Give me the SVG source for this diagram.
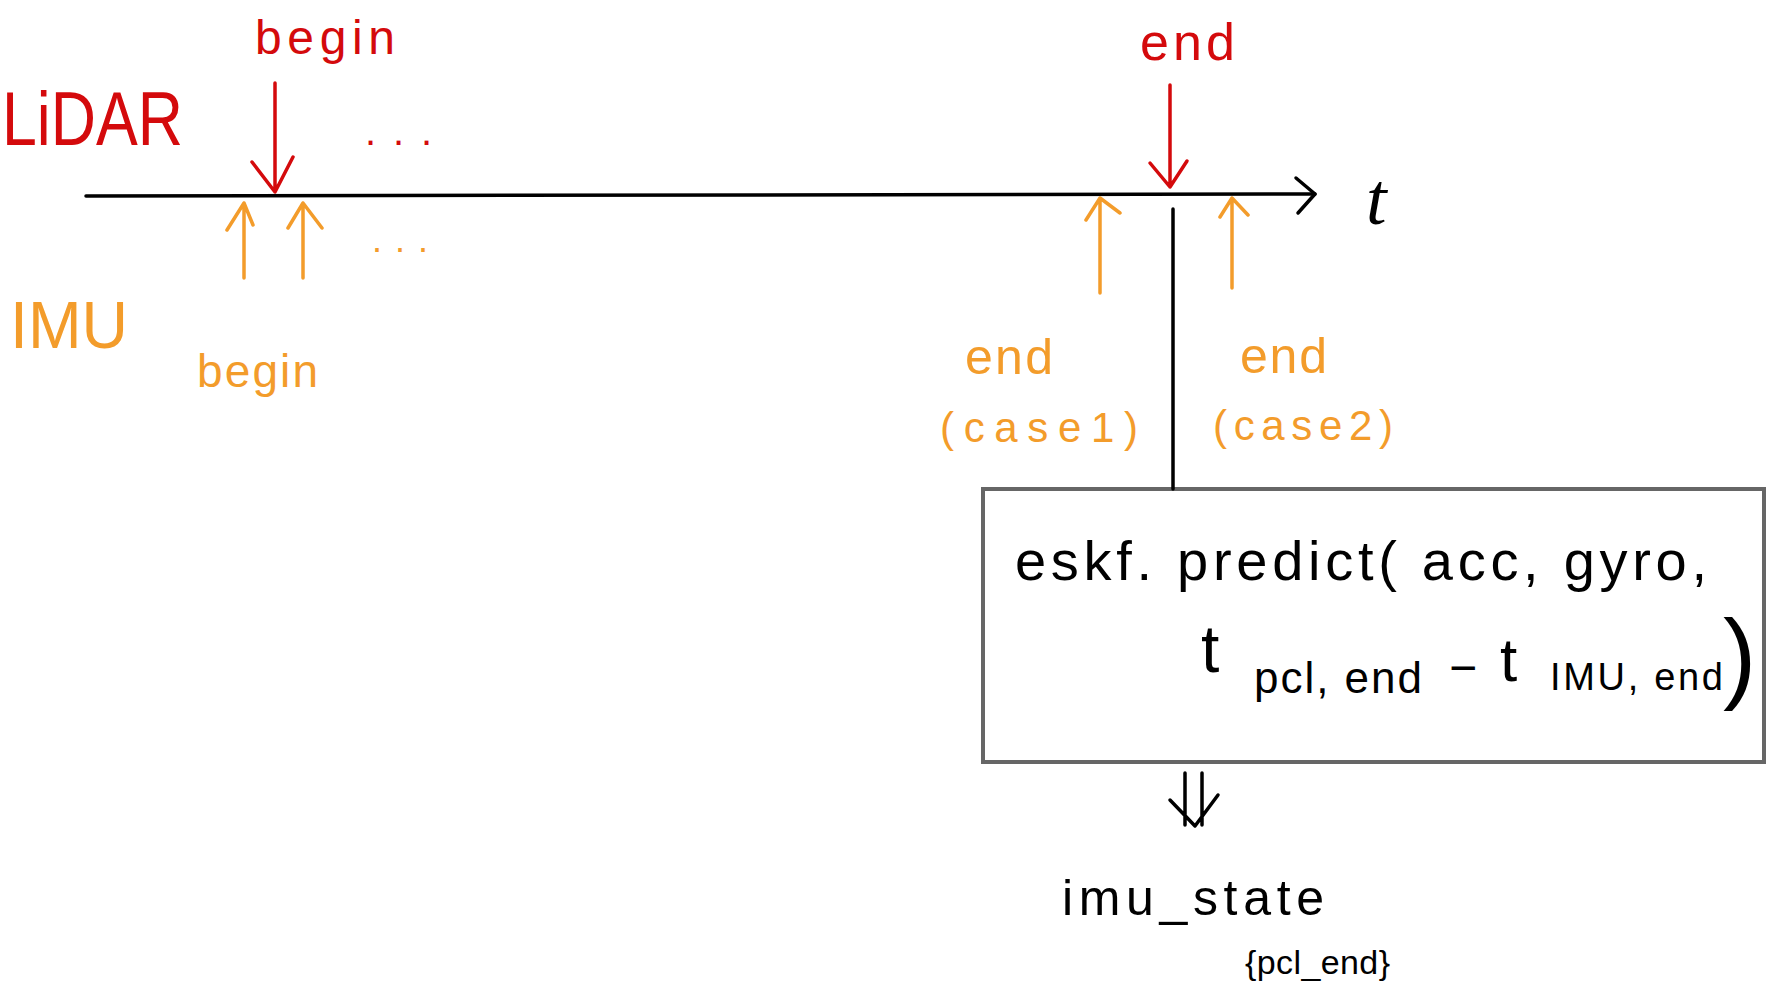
<svg xmlns="http://www.w3.org/2000/svg" width="1767" height="1000" viewBox="0 0 1767 1000">
<defs>
<style>
text{font-family:"Liberation Sans",Arial,sans-serif}
.red{fill:#d40a0c}
.org{fill:#f39c2b}
.blk{fill:#000}
.sr{stroke:#d40a0c;stroke-width:3.5;fill:none;stroke-linecap:round;stroke-linejoin:round}
.so{stroke:#f39c2b;stroke-width:3.5;fill:none;stroke-linecap:round;stroke-linejoin:round}
.sk{stroke:#000;stroke-width:3.5;fill:none;stroke-linecap:round;stroke-linejoin:round}
</style>
</defs>
<rect width="1767" height="1000" fill="#fff"/>
<g id="lidar-label"><text class="red" x="2" y="145" font-size="76" textLength="181" lengthAdjust="spacingAndGlyphs">LiDAR</text></g>
<g id="imu-label"><text class="org" x="10" y="348" font-size="66" textLength="118" lengthAdjust="spacingAndGlyphs">IMU</text></g>
<g id="lidar-begin"><text class="red" x="255" y="54" font-size="48" textLength="140" lengthAdjust="spacing">begin</text></g>
<g id="lidar-dots"><text class="red" x="365" y="145" font-size="40" textLength="67" lengthAdjust="spacing">...</text></g>
<g id="lidar-end"><text class="red" x="1140" y="60" font-size="52" textLength="95" lengthAdjust="spacing">end</text></g>
<g id="imu-begin"><text class="org" x="197" y="387" font-size="46" textLength="121" lengthAdjust="spacing">begin</text></g>
<g id="imu-dots"><text class="org" x="372" y="252" font-size="36" textLength="56" lengthAdjust="spacing">...</text></g>
<g id="imu-end-case1"><text class="org" x="965" y="374" font-size="50" textLength="88" lengthAdjust="spacing">end</text><text class="org" x="940" y="442" font-size="42" textLength="198" lengthAdjust="spacing">(case1)</text></g>
<g id="imu-end-case2"><text class="org" x="1240" y="373" font-size="50" textLength="87" lengthAdjust="spacing">end</text><text class="org" x="1213" y="440" font-size="42" textLength="180" lengthAdjust="spacing">(case2)</text></g>
<g id="time-axis-label"><text class="blk" x="1366" y="224" font-size="74" font-style="italic" style="font-family:'Liberation Serif',serif">t</text></g>
<g id="predict-box">
<rect x="983" y="489" width="781" height="273" fill="#fff" stroke="#666" stroke-width="4"/>
<text class="blk" x="1015" y="580" font-size="56" textLength="692" lengthAdjust="spacing">eskf. predict( acc, gyro,</text>
<text class="blk" x="1201" y="672" font-size="66">t</text>
<text class="blk" x="1254" y="693" font-size="44" textLength="168" lengthAdjust="spacing">pcl, end</text>
<text class="blk" x="1449" y="684" font-size="48">−</text>
<text class="blk" x="1500" y="681" font-size="62">t</text>
<text class="blk" x="1550" y="690" font-size="38" textLength="173" lengthAdjust="spacing">IMU, end</text>
<text class="blk" x="1723" y="690" font-size="100">)</text>
</g>
<g id="imu-state"><text class="blk" x="1062" y="915" font-size="50" textLength="262" lengthAdjust="spacing">imu_state</text><text class="blk" x="1245" y="974" font-size="34" textLength="145" lengthAdjust="spacing">{pcl_end}</text></g>
<g id="connectors">
<path class="sk" d="M86 196 L1315 194" stroke-width="4"/>
<path class="sk" d="M1296 178 L1315 194 L1298 213"/>
<path class="sr" d="M275 83 L275 192 M252 162 L275 192 L293 157"/>
<path class="sr" d="M1170 85 L1170 187 M1150 163 L1170 187 L1187 161"/>
<path class="so" d="M244 278 L244 203 M227 230 L244 203 L253 225"/>
<path class="so" d="M303 278 L303 203 M288 228 L303 203 L322 228"/>
<path class="so" d="M1100 293 L1100 198 M1086 220 L1100 198 L1120 213"/>
<path class="so" d="M1232 288 L1232 198 M1220 217 L1232 198 L1248 215"/>
<path class="sk" d="M1173 209 L1173 489"/>
<path class="sk" d="M1185 773 L1185 825 M1202 773 L1202 825 M1170 800 L1195 826 L1218 795"/>
</g>
</svg>
